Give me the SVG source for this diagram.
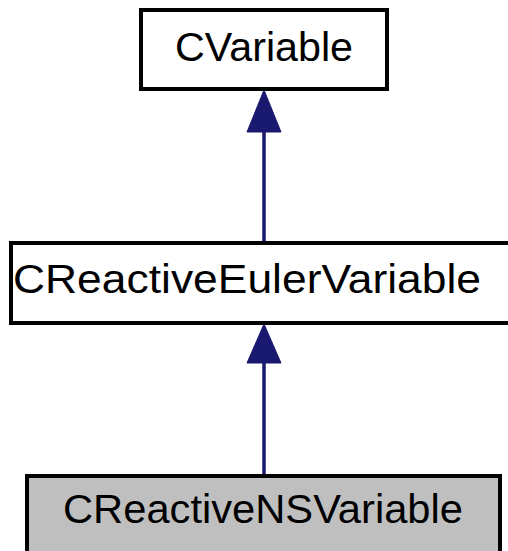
<svg xmlns="http://www.w3.org/2000/svg" width="508" height="551" viewBox="0 0 508 551">
<style>
.box{fill:#fff;stroke:#000;stroke-width:4}
.cur{fill:#bfbfbf;stroke:#000;stroke-width:4}
.lbl{font-family:"Liberation Sans",Arial,sans-serif;font-size:40px;fill:#000;text-anchor:middle}
.edge{stroke:#191970;stroke-width:3.5;fill:none}
.head{fill:#191970;stroke:#191970;stroke-width:1}
</style>
<rect width="508" height="551" fill="#fff"/>
<g id="connectors">
<line class="edge" x1="264" y1="242" x2="264" y2="130"/>
<polygon class="head" points="264,90 247,132 281,132"/>
<line class="edge" x1="264" y1="475" x2="264" y2="360"/>
<polygon class="head" points="264,324 247,363 281,363"/>
</g>
<g id="node_CVariable">
<rect class="box" x="141" y="10" width="246" height="79"/>
<text class="lbl" x="264" y="61" textLength="178" lengthAdjust="spacingAndGlyphs">CVariable</text>
</g>
<g id="node_CReactiveEulerVariable">
<rect class="box" x="11" y="243" width="504" height="80"/>
<text class="lbl" x="247" y="293" textLength="468" lengthAdjust="spacingAndGlyphs">CReactiveEulerVariable</text>
</g>
<g id="node_CReactiveNSVariable">
<rect class="cur" x="27" y="476" width="473" height="90"/>
<text class="lbl" x="263" y="523" textLength="400" lengthAdjust="spacingAndGlyphs">CReactiveNSVariable</text>
</g>
</svg>
